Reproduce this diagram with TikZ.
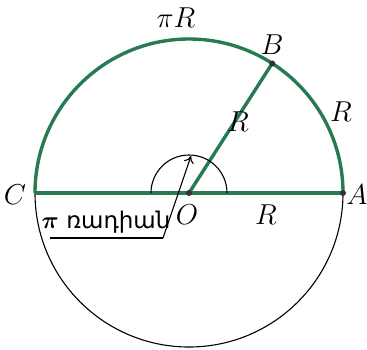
\documentclass[tikz,border=0pt]{standalone}
\usepackage{amsmath}
\usepackage{fontspec}
\newfontfamily\armfont{DejaVu Sans}
\usetikzlibrary{arrows, arrows.meta, positioning, calc}
\definecolor{arcgreen}{RGB}{40,122,82}

\begin{document}
\begin{tikzpicture}[x=0.5pt, y=0.5pt,
    thickgreen/.style={draw=arcgreen, line width=1.7pt},
    thinline/.style={draw=black, line width=0.55pt},
    pt/.style={circle, fill=black!80, inner sep=0pt, minimum size=3pt},
    lab/.style={font=\fontsize{13.5}{15}\selectfont}]
    \useasboundingbox (0,0) rectangle (367,349);

    \coordinate (O) at (189,156);
    \coordinate (A) at (343,156);
    \coordinate (C) at (35,156);
    \coordinate (B) at ($(O)+(57.3:154)$);
    \coordinate (S) at (227,156);

    % lower half in black, upper half and radii in green
    \draw [thinline] (C) arc[start angle=180, end angle=360, radius=154];
    \draw [thickgreen] (A) arc[start angle=0, end angle=180, radius=154];
    \draw [thickgreen] (C) -- (A);
    \draw [thickgreen] (O) -- (B);
    \draw [thinline] (S) arc[start angle=0, end angle=180, radius=38];

    \node [pt] at (O) {};
    \node [pt] at (A) {};
    \node [pt] at (B) {};

    % labels
    \node [lab] (piR) at (176,331) {$\pi R$};
    \node [lab] (lB) at (272,304) {$B$};
    \node [lab] (lRarc) at (341,237) {$R$};
    \node [lab] (lRob) at (238,227) {$R$};
    \node [lab] (lRoa) at (266,134) {$R$};
    \node [lab] (lO) at (187,134) {$O$};
    \node [lab] (lA) at (357,154) {$A$};
    \node [lab] (lC) at (15,154) {$C$};

    % pi radian pointer
    \node [anchor=south, inner sep=1pt] (rad) at (106,113) {\fontsize{11.5}{13}\selectfont$\boldsymbol{\pi}$ \armfont ռադիան};
    \coordinate (ulL) at (50,111);
    \coordinate (ulR) at (163,111);
    \coordinate (tip) at (191,193);
    \draw [thinline] (ulL) -- (ulR);
    \draw [thinline, -{To[length=3.5pt, width=5pt]}] (ulR) -- (tip);
\end{tikzpicture}
\end{document}
